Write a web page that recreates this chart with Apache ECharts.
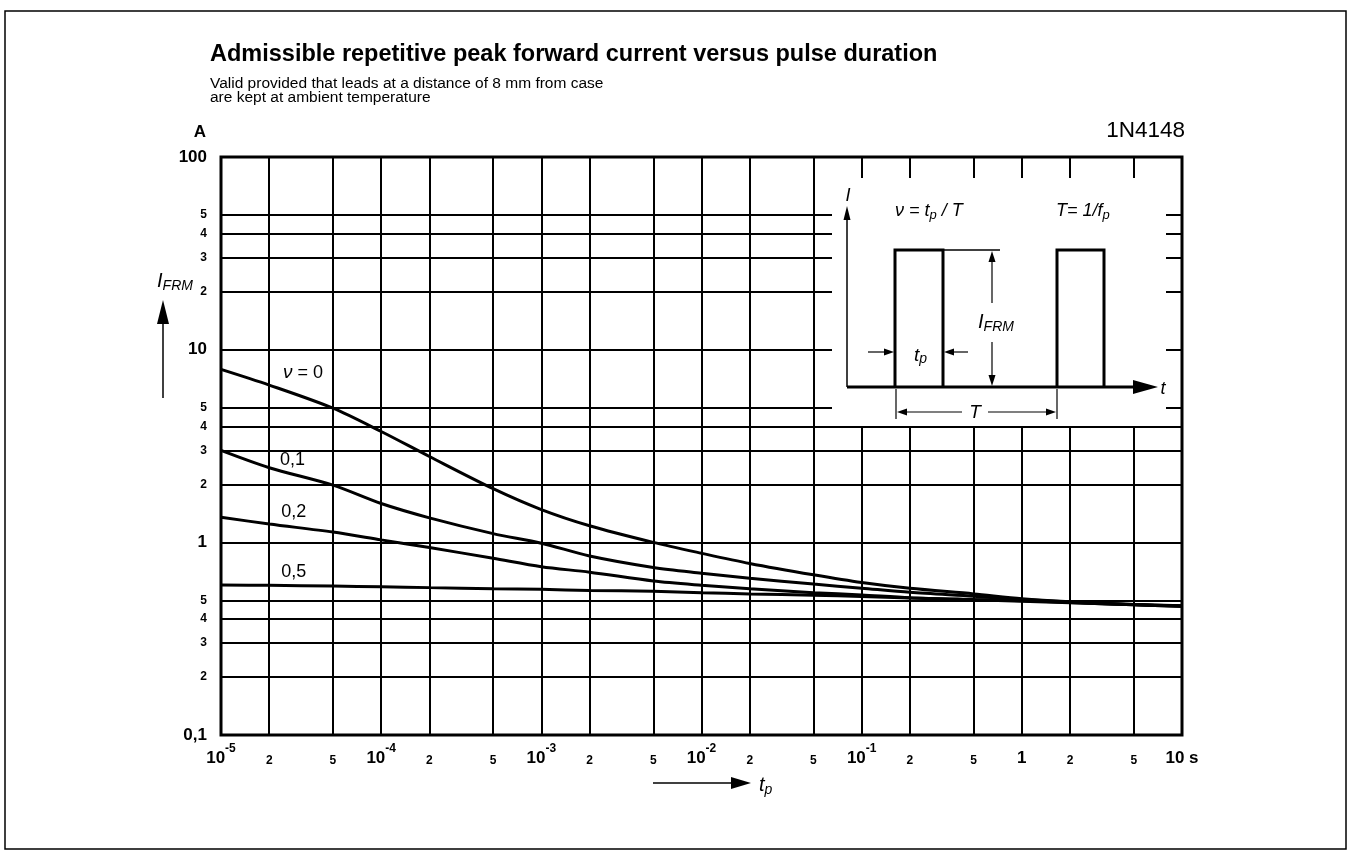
<!DOCTYPE html>
<html>
<head>
<meta charset="utf-8">
<script src="https://cdn.jsdelivr.net/npm/echarts@6/dist/echarts.min.js"></script>
<style>
  html, body { margin: 0; padding: 0; background: #fff; }
  #container { width: 1350px; height: 852px; }
</style>
</head>
<body>
<div id="container"></div>
<script>
// 1N4148 - I_FRM versus t_p
var tp = [1e-5, 2e-5, 5e-5, 1e-4, 2e-4, 5e-4, 1e-3, 2e-3, 5e-3, 1e-2, 2e-2, 5e-2, 1e-1, 2e-1, 5e-1, 1, 2, 5, 10];
var ifrm_v0  = [7.9, 6.55, 4.97, 3.76, 2.79, 1.9, 1.48, 1.22, 1.0, 0.878, 0.777, 0.678, 0.618, 0.577, 0.54, 0.51, 0.492, 0.476, 0.468];
var ifrm_v01 = [3.0, 2.44, 1.98, 1.59, 1.34, 1.11, 0.99, 0.85, 0.741, 0.692, 0.651, 0.607, 0.578, 0.55, 0.525, 0.505, 0.49, 0.475, 0.467];
var ifrm_v02 = [1.35, 1.245, 1.13, 1.03, 0.94, 0.826, 0.747, 0.70, 0.63, 0.599, 0.575, 0.548, 0.533, 0.516, 0.505, 0.498, 0.487, 0.474, 0.466];
var ifrm_v05 = [0.60, 0.598, 0.593, 0.588, 0.582, 0.575, 0.57, 0.563, 0.557, 0.548, 0.54, 0.531, 0.524, 0.514, 0.503, 0.495, 0.486, 0.474, 0.466];

// gridline / label positions
var xTicks = [1e-5, 2e-5, 5e-5, 1e-4, 2e-4, 5e-4, 1e-3, 2e-3, 5e-3, 1e-2, 2e-2, 5e-2, 1e-1, 2e-1, 5e-1, 1, 2, 5, 10];
var yTicks = [0.1, 0.2, 0.3, 0.4, 0.5, 1, 2, 3, 4, 5, 10, 20, 30, 40, 50, 100];

// curve names and where their labels sit [t, I]
var curveLabels = ['{i|ν} = 0', '0,1', '0,2', '0,5'];
var curveLabelPos = [[3.25e-5, 7.6], [2.8e-5, 2.67], [2.85e-5, 1.44], [2.85e-5, 0.70]];

var FONT = "'Liberation Sans', Arial, sans-serif";

function decade(v) {
    var e = Math.floor(Math.log10(v) + 1e-9);
    var m = Math.round(v / Math.pow(10, e));
    return { e: e, m: m };
}

function pairs(ys) {
    var out = [];
    for (var i = 0; i < tp.length; i++) out.push([tp[i], ys[i]]);
    return out;
}

function curve(name, ys, idx) {
    return {
        name: name,
        type: 'line',
        data: pairs(ys),
        showSymbol: false,
        smooth: 0.3,
        lineStyle: { color: '#000', width: 3 },
        silent: true,
        markPoint: {
            symbol: 'circle',
            symbolSize: 0,
            silent: true,
            data: [{
                coord: curveLabelPos[idx],
                label: {
                    show: true,
                    position: 'inside',
                    formatter: curveLabels[idx],
                    color: '#000',
                    fontSize: 18,
                    fontFamily: FONT,
                    rich: { i: { fontSize: 19, fontStyle: 'italic', fontFamily: FONT, color: '#000' } }
                }
            }]
        }
    };
}

var dom = document.getElementById("container");
var myChart = echarts.init(dom);
var option;

option = {
    backgroundColor: '#fff',
    animation: false,
    grid: {
        left: 221, top: 157, width: 961, height: 578,
        show: true, borderColor: '#000', borderWidth: 3,
        backgroundColor: 'transparent'
    },
    xAxis: {
        type: 'log', logBase: 10, min: 1e-5, max: 10,
        axisLine: { show: false },
        axisTick: { show: false, customValues: xTicks },
        splitLine: { show: true, lineStyle: { color: '#000', width: 2 } },
        axisLabel: {
            customValues: xTicks,
            margin: 8,
            color: '#000',
            fontFamily: FONT,
            formatter: function (v) {
                var d = decade(v);
                if (d.m !== 1) return '{s|' + d.m + '}';
                if (d.e === 0) return '{b|1}';
                if (d.e === 1) return '{b|10}{b| s}';
                return '{b|10}{sup|' + d.e + '}';
            },
            rich: {
                b: { fontSize: 17, fontWeight: 'bold', fontFamily: FONT, color: '#000', lineHeight: 24, verticalAlign: 'bottom' },
                sup: { fontSize: 12, fontWeight: 'bold', fontFamily: FONT, color: '#000', lineHeight: 12, verticalAlign: 'top' },
                s: { fontSize: 12, fontWeight: 'bold', fontFamily: FONT, color: '#000', lineHeight: 24, verticalAlign: 'bottom', padding: [6, 0, 0, 0] }
            }
        }
    },
    yAxis: {
        type: 'log', logBase: 10, min: 0.1, max: 100,
        axisLine: { show: false },
        axisTick: { show: false, customValues: yTicks },
        splitLine: { show: true, lineStyle: { color: '#000', width: 2 } },
        axisLabel: {
            customValues: yTicks,
            margin: 14,
            color: '#000',
            fontFamily: FONT,
            formatter: function (v) {
                var d = decade(v);
                if (d.m !== 1) return '{s|' + d.m + '}';
                if (d.e === -1) return '{b|0,1}';
                return '{b|' + Math.round(v) + '}';
            },
            rich: {
                b: { fontSize: 17, fontWeight: 'bold', fontFamily: FONT, color: '#000' },
                s: { fontSize: 12, fontWeight: 'bold', fontFamily: FONT, color: '#000' }
            }
        }
    },
    series: [
        curve('v=0', ifrm_v0, 0),
        curve('v=0.1', ifrm_v01, 1),
        curve('v=0.2', ifrm_v02, 2),
        curve('v=0.5', ifrm_v05, 3)
    ],
    graphic: [
        // outer frame
        { type: 'rect', z: 1, shape: { x: 5, y: 11, width: 1341, height: 838 },
          style: { fill: 'none', stroke: '#000', lineWidth: 1.5 } },
        // titles
        { type: 'text', z: 100, x: 210, y: 55,
          style: { text: 'Admissible repetitive peak forward current versus pulse duration',
                   font: 'bold 23.5px ' + FONT, fill: '#000', verticalAlign: 'middle' } },
        { type: 'text', z: 100, x: 210, y: 84,
          style: { text: 'Valid provided that leads at a distance of 8 mm from case',
                   font: '15.5px ' + FONT, fill: '#000', verticalAlign: 'middle' } },
        { type: 'text', z: 100, x: 210, y: 98,
          style: { text: 'are kept at ambient temperature',
                   font: '15.5px ' + FONT, fill: '#000', verticalAlign: 'middle' } },
        { type: 'text', z: 100, x: 1185, y: 131,
          style: { text: '1N4148', font: '22.5px ' + FONT, fill: '#000', align: 'right', verticalAlign: 'middle' } },
        { type: 'text', z: 100, x: 200, y: 132,
          style: { text: 'A', font: 'bold 17px ' + FONT, fill: '#000', align: 'center', verticalAlign: 'middle' } },
        // y axis name + arrow
        { type: 'text', z: 100, x: 175, y: 282,
          style: { text: '{i|I}{s|FRM}', align: 'center', verticalAlign: 'middle',
                   rich: { i: { font: 'italic 20px ' + FONT, fill: '#000', lineHeight: 22, verticalAlign: 'top' },
                           s: { font: 'italic 14px ' + FONT, fill: '#000', lineHeight: 16, verticalAlign: 'bottom' } } } },
        { type: 'line', z: 100, shape: { x1: 163, y1: 398, x2: 163, y2: 318 }, style: { stroke: '#000', lineWidth: 1.5 } },
        { type: 'polygon', z: 100, shape: { points: [[157, 324], [169, 324], [163, 300]] }, style: { fill: '#000' } },
        // x axis name + arrow
        { type: 'line', z: 100, shape: { x1: 653, y1: 783, x2: 736, y2: 783 }, style: { stroke: '#000', lineWidth: 1.5 } },
        { type: 'polygon', z: 100, shape: { points: [[731, 777], [731, 789], [751, 783]] }, style: { fill: '#000' } },
        { type: 'text', z: 100, x: 759, y: 786,
          style: { text: '{i|t}{s|p}', verticalAlign: 'middle',
                   rich: { i: { font: 'italic 20px ' + FONT, fill: '#000', lineHeight: 22, verticalAlign: 'top' },
                           s: { font: 'italic 14px ' + FONT, fill: '#000', lineHeight: 16, verticalAlign: 'bottom' } } } },

        // inset pulse diagram
        { type: 'rect', z: 90, shape: { x: 832, y: 178, width: 334, height: 248 }, style: { fill: '#fff' } },
        { type: 'line', z: 100, shape: { x1: 847, y1: 387, x2: 847, y2: 214 }, style: { stroke: '#000', lineWidth: 1.5 } },
        { type: 'polygon', z: 100, shape: { points: [[843.5, 220], [850.5, 220], [847, 206]] }, style: { fill: '#000' } },
        { type: 'text', z: 100, x: 848, y: 196,
          style: { text: 'I', font: 'italic 18px ' + FONT, fill: '#000', align: 'center', verticalAlign: 'middle' } },
        { type: 'polyline', z: 100, shape: { points: [[847, 387], [1136, 387]] }, style: { stroke: '#000', lineWidth: 3 } },
        { type: 'polygon', z: 100, shape: { points: [[1133, 380], [1158, 387], [1133, 394]] }, style: { fill: '#000' } },
        { type: 'text', z: 100, x: 1163, y: 389,
          style: { text: 't', font: 'italic 18px ' + FONT, fill: '#000', align: 'center', verticalAlign: 'middle' } },
        { type: 'polyline', z: 100, shape: { points: [[895, 387], [895, 250], [943, 250], [943, 387]] },
          style: { stroke: '#000', lineWidth: 3, fill: 'none' } },
        { type: 'polyline', z: 100, shape: { points: [[1057, 387], [1057, 250], [1104, 250], [1104, 387]] },
          style: { stroke: '#000', lineWidth: 3, fill: 'none' } },
        { type: 'line', z: 100, shape: { x1: 943, y1: 250, x2: 1000, y2: 250 }, style: { stroke: '#000', lineWidth: 1.5 } },
        // I_FRM dimension
        { type: 'line', z: 100, shape: { x1: 992, y1: 258, x2: 992, y2: 303 }, style: { stroke: '#000', lineWidth: 1.2 } },
        { type: 'line', z: 100, shape: { x1: 992, y1: 342, x2: 992, y2: 380 }, style: { stroke: '#000', lineWidth: 1.2 } },
        { type: 'polygon', z: 100, shape: { points: [[988.5, 262], [995.5, 262], [992, 251]] }, style: { fill: '#000' } },
        { type: 'polygon', z: 100, shape: { points: [[988.5, 375], [995.5, 375], [992, 386]] }, style: { fill: '#000' } },
        { type: 'text', z: 100, x: 996, y: 323,
          style: { text: '{i|I}{s|FRM}', align: 'center', verticalAlign: 'middle',
                   rich: { i: { font: 'italic 20px ' + FONT, fill: '#000', lineHeight: 22, verticalAlign: 'top' },
                           s: { font: 'italic 14px ' + FONT, fill: '#000', lineHeight: 16, verticalAlign: 'bottom' } } } },
        // t_p arrows
        { type: 'line', z: 100, shape: { x1: 868, y1: 352, x2: 886, y2: 352 }, style: { stroke: '#000', lineWidth: 1.2 } },
        { type: 'polygon', z: 100, shape: { points: [[884, 348.5], [884, 355.5], [894, 352]] }, style: { fill: '#000' } },
        { type: 'line', z: 100, shape: { x1: 953, y1: 352, x2: 968, y2: 352 }, style: { stroke: '#000', lineWidth: 1.2 } },
        { type: 'polygon', z: 100, shape: { points: [[954, 348.5], [954, 355.5], [944, 352]] }, style: { fill: '#000' } },
        { type: 'text', z: 100, x: 914, y: 356,
          style: { text: '{i|t}{s|p}', verticalAlign: 'middle',
                   rich: { i: { font: 'italic 19px ' + FONT, fill: '#000', lineHeight: 20, verticalAlign: 'top' },
                           s: { font: 'italic 14px ' + FONT, fill: '#000', lineHeight: 14, verticalAlign: 'bottom' } } } },
        // T dimension
        { type: 'line', z: 100, shape: { x1: 896, y1: 389, x2: 896, y2: 419 }, style: { stroke: '#000', lineWidth: 1.2 } },
        { type: 'line', z: 100, shape: { x1: 1057, y1: 389, x2: 1057, y2: 419 }, style: { stroke: '#000', lineWidth: 1.2 } },
        { type: 'line', z: 100, shape: { x1: 905, y1: 412, x2: 962, y2: 412 }, style: { stroke: '#000', lineWidth: 1.2 } },
        { type: 'line', z: 100, shape: { x1: 988, y1: 412, x2: 1048, y2: 412 }, style: { stroke: '#000', lineWidth: 1.2 } },
        { type: 'polygon', z: 100, shape: { points: [[907, 408.5], [907, 415.5], [897, 412]] }, style: { fill: '#000' } },
        { type: 'polygon', z: 100, shape: { points: [[1046, 408.5], [1046, 415.5], [1056, 412]] }, style: { fill: '#000' } },
        { type: 'text', z: 100, x: 975, y: 413,
          style: { text: 'T', font: 'italic 19px ' + FONT, fill: '#000', align: 'center', verticalAlign: 'middle' } },
        // formulas
        { type: 'text', z: 100, x: 895, y: 212,
          style: { text: '{i|ν = t}{s|p}{i| / T}', verticalAlign: 'middle',
                   rich: { i: { font: 'italic 18px ' + FONT, fill: '#000', lineHeight: 20, verticalAlign: 'top' },
                           s: { font: 'italic 13px ' + FONT, fill: '#000', lineHeight: 14, verticalAlign: 'bottom' } } } },
        { type: 'text', z: 100, x: 1056, y: 212,
          style: { text: '{i|T= 1/f}{s|p}', verticalAlign: 'middle',
                   rich: { i: { font: 'italic 18px ' + FONT, fill: '#000', lineHeight: 20, verticalAlign: 'top' },
                           s: { font: 'italic 13px ' + FONT, fill: '#000', lineHeight: 14, verticalAlign: 'bottom' } } } }
    ]
};

if (option && typeof option === 'object') {
    myChart.setOption(option);
}
</script>
</body>
</html>
